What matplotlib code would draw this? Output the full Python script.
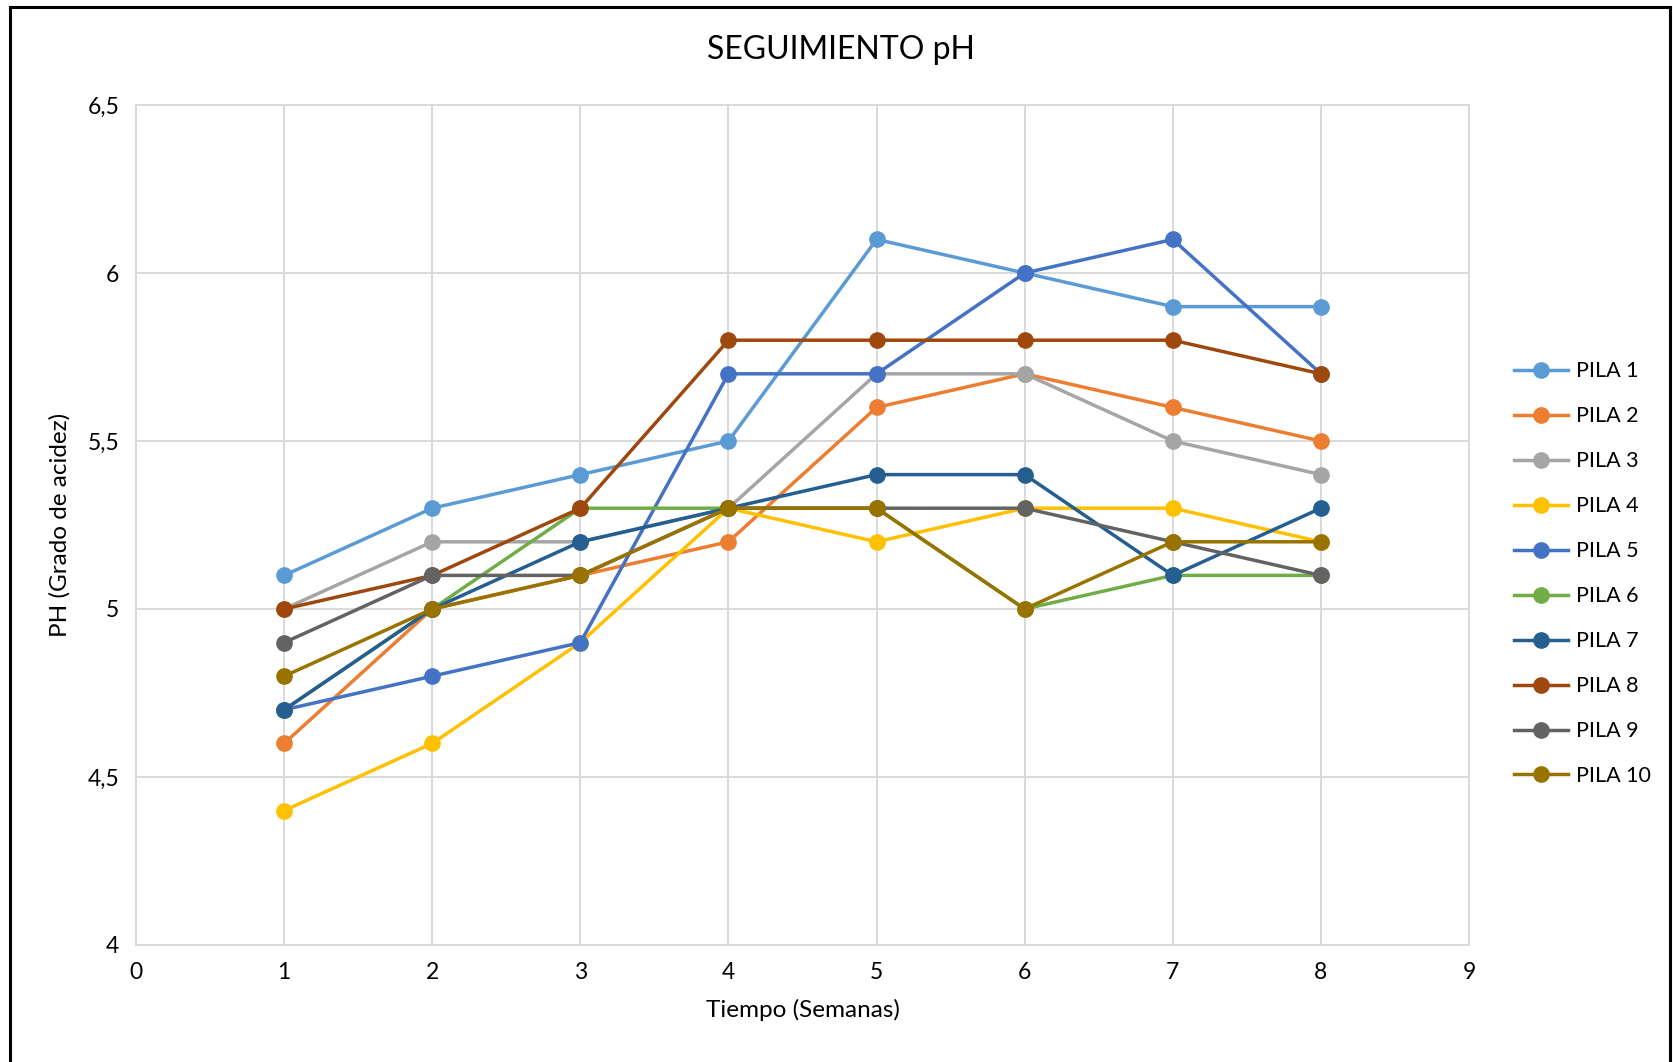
import matplotlib
matplotlib.use("Agg")
import matplotlib.pyplot as plt
from matplotlib.lines import Line2D
from matplotlib.ticker import FuncFormatter

plt.rcParams['font.family'] = ['Lato', 'DejaVu Sans']

semanas = [1, 2, 3, 4, 5, 6, 7, 8]
pila_1 = [5.1, 5.3, 5.4, 5.5, 6.1, 6.0, 5.9, 5.9]
pila_2 = [4.6, 5.0, 5.1, 5.2, 5.6, 5.7, 5.6, 5.5]
pila_3 = [5.0, 5.2, 5.2, 5.3, 5.7, 5.7, 5.5, 5.4]
pila_4 = [4.4, 4.6, 4.9, 5.3, 5.2, 5.3, 5.3, 5.2]
pila_5 = [4.7, 4.8, 4.9, 5.7, 5.7, 6.0, 6.1, 5.7]
pila_6 = [4.7, 5.0, 5.3, 5.3, 5.3, 5.0, 5.1, 5.1]
pila_7 = [4.7, 5.0, 5.2, 5.3, 5.4, 5.4, 5.1, 5.3]
pila_8 = [5.0, 5.1, 5.3, 5.8, 5.8, 5.8, 5.8, 5.7]
pila_9 = [4.9, 5.1, 5.1, 5.3, 5.3, 5.3, 5.2, 5.1]
pila_10 = [4.8, 5.0, 5.1, 5.3, 5.3, 5.0, 5.2, 5.2]

series = [pila_1, pila_2, pila_3, pila_4, pila_5,
          pila_6, pila_7, pila_8, pila_9, pila_10]
nombres = ['PILA %d' % (i + 1) for i in range(10)]
colores = ['#5B9BD5', '#ED7D31', '#A5A5A5', '#FFC000', '#4472C4',
           '#70AD47', '#255E91', '#9E480E', '#636363', '#997300']

fig = plt.figure(figsize=(16.73, 10.62), dpi=100)
ax = fig.add_axes([0.0813, 0.1102, 0.7968, 0.7909])

for vals, nom, col in zip(series, nombres, colores):
    ax.plot(semanas, vals, color=col, lw=2.5, marker='o', ms=11,
            label=nom, zorder=3)

ax.set_xlim(0, 9)
ax.set_ylim(4, 6.5)
ax.set_xticks(range(0, 10))
ax.set_yticks([4, 4.5, 5, 5.5, 6, 6.5])
ax.yaxis.set_major_formatter(FuncFormatter(lambda v, p: ('%g' % v).replace('.', ',')))
ax.tick_params(length=0, labelsize=16.5, pad=12, colors='black')
ax.grid(True, color='#d9d9d9', lw=1.4, zorder=0)
for s in ax.spines.values():
    s.set_color('#d9d9d9')
    s.set_linewidth(1.4)

fig.text(0.5025, 0.953, 'SEGUIMIENTO pH', fontsize=23, ha='center', va='center')
ax.set_xlabel('Tiempo (Semanas)', fontsize=17.5, labelpad=12)
ax.set_ylabel('PH (Grado de acidez)', fontsize=17.5, labelpad=12)

ax.legend(loc='upper left', bbox_to_anchor=(1.019, 0.718), frameon=False,
          fontsize=15.5, labelspacing=1.16, handlelength=2.5, handletextpad=0.4)

# marco del grafico
fig.add_artist(Line2D([0.006, 0.006], [0, 0.9935], color='black', lw=2.2))
fig.add_artist(Line2D([0.006, 0.9985], [0.9935, 0.9935], color='black', lw=2.2))
fig.add_artist(Line2D([0.9985, 0.9985], [0, 0.9935], color='black', lw=2.2))

fig.savefig('out.png', dpi=100)
